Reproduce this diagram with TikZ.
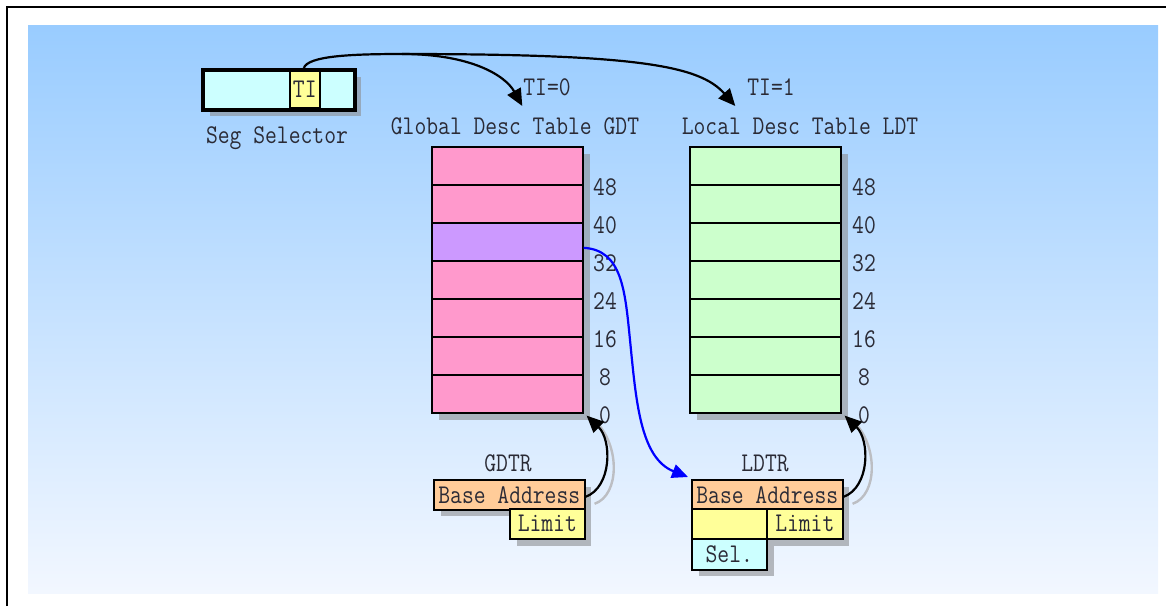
\documentclass[tikz,border=0pt]{standalone}
\usepackage{fontspec}
\setmonofont{Latin Modern Mono}[FakeStretch=0.85]
\usetikzlibrary{arrows.meta,calc}
\definecolor{bgtop}{HTML}{99CCFF}
\definecolor{bgbot}{HTML}{F2F7FF}
\definecolor{pinkc}{HTML}{FF99CC}
\definecolor{purplec}{HTML}{CC99FF}
\definecolor{greenc}{HTML}{CCFFCC}
\definecolor{cyanc}{HTML}{CCFFFF}
\definecolor{yellowc}{HTML}{FFFF99}
\definecolor{peachc}{HTML}{FFCC99}
\definecolor{shadc}{RGB}{140,142,146}
\definecolor{txtc}{HTML}{2A2A35}
\begin{document}
\begin{tikzpicture}[x=1pt,y=-1pt,
  font=\ttfamily\fontsize{27}{30}\selectfont,
  cell/.style={draw=black, line width=1.6pt, inner sep=0pt, anchor=north west, text=txtc},
  shad/.style={fill=shadc, fill opacity=0.6},
  lbl/.style={inner sep=0pt, text=txtc},
  arr/.style={line width=2.2pt, -{Triangle[length=17pt,width=15pt]}},
  sarr/.style={line width=2.4pt, draw={rgb,255:red,188;green,190;blue,195}}
]
\useasboundingbox (0,0) rectangle (1166,606);
% frame and background
\draw[line width=2pt] (7,606) -- (7,7) -- (1166,7);
\shade[top color=bgtop, bottom color=bgbot] (28,25) rectangle (1158,593);

% segment selector
\fill[shad] (210,77) rectangle (361,116);
\node[cell, line width=2.6pt, fill=cyanc, minimum width=151pt, minimum height=39pt] (sel) at (202,69) {};
\node[cell, line width=1.6pt, fill=yellowc, minimum width=30pt, minimum height=37pt] (ti) at (289,70) {TI};
\draw[line width=2.6pt] (sel.north west) rectangle (sel.south east);
\node[lbl] (sellbl) at (277,138) {Seg Selector};

% GDT
\node[lbl] (ti0) at (547,87) {TI=0};
\node[lbl] (gdtlbl) at (515,126) {Global Desc Table GDT};
\fill[shad] (439,154) rectangle (590,420);
\foreach \i/\c in {1/pinkc,2/pinkc,3/purplec,4/pinkc,5/pinkc,6/pinkc,7/pinkc}
  \node[cell, fill=\c, minimum width=151pt, minimum height=38pt] (g\i) at (431,{146+(\i-1)*38}) {};
\foreach \n [count=\k] in {48,40,32,24,16,8,0}
  \node[lbl] (gn\k) at (605,{187+(\k-1)*38}) {\n};

% LDT
\node[lbl] (ti1) at (771,87) {TI=1};
\node[lbl] (ldtlbl) at (800,126) {Local Desc Table LDT};
\fill[shad] (697,154) rectangle (848,420);
\foreach \i in {1,...,7}
  \node[cell, fill=greenc, minimum width=151pt, minimum height=38pt] (l\i) at (689,{146+(\i-1)*38}) {};
\foreach \n [count=\k] in {48,40,32,24,16,8,0}
  \node[lbl] (ln\k) at (864,{187+(\k-1)*38}) {\n};

% GDTR
\node[lbl] (gdtr) at (508,463) {GDTR};
\fill[shad] (441,487) rectangle (591,516);
\fill[shad] (517,516) rectangle (591,546);
\node[cell, fill=peachc, minimum width=151pt, minimum height=30pt] (gbase) at (433,479) {Base Address};
\node[cell, fill=yellowc, minimum width=75pt, minimum height=30pt] (glimit) at (509,508) {Limit};

% LDTR
\node[lbl] (ldtr) at (765,463) {LDTR};
\fill[shad] (699,487) rectangle (849,546);
\fill[shad] (699,546) rectangle (774,576);
\node[cell, fill=peachc, minimum width=151pt, minimum height=30pt] (lbase) at (691,479) {Base Address};
\node[cell, fill=yellowc, minimum width=75pt, minimum height=30pt] (lempty) at (691,508) {};
\node[cell, fill=yellowc, minimum width=76pt, minimum height=30pt] (llimit) at (766,508) {Limit};
\node[cell, fill=cyanc, minimum width=75pt, minimum height=31pt] (lsel) at (691,538) {Sel.};

% selector arrows
\coordinate (j) at (402,54);
\draw[line width=2.2pt] ($(ti.north)+(-1,-2)$) .. controls (308,56) and (350,54) .. (j);
\draw[arr] (j) .. controls (470,54) and (505,75) .. ($(g1.north)+(15,-40)$);
\draw[arr] (j) .. controls (640,54) and (700,66) .. ($(l1.north)+(-30,-40)$);

% blue arrow GDT -> LDTR
\draw[line width=2.2pt, blue, -{Triangle[length=16pt,width=14pt]}]
  ($(g3.east)+(0,6)$) .. controls (622,250) and (625,290) .. (630,340)
  .. controls (636,400) and (640,458) .. ($(lbase.north west)+(-3,-2)$);

% GDTR -> GDT
\draw[sarr] ($(gbase.east)+(9,9)$) .. controls (620,495) and (620,445) .. ($(g7.south east)+(12,8)$);
\draw[arr] ($(gbase.east)+(0,2)$) .. controls (612,487) and (612,440) .. ($(g7.south east)+(3,2)$);
% LDTR -> LDT
\draw[sarr] ($(lbase.east)+(9,9)$) .. controls (878,495) and (878,445) .. ($(l7.south east)+(12,8)$);
\draw[arr] ($(lbase.east)+(0,2)$) .. controls (870,487) and (870,440) .. ($(l7.south east)+(3,2)$);
\end{tikzpicture}
\end{document}
